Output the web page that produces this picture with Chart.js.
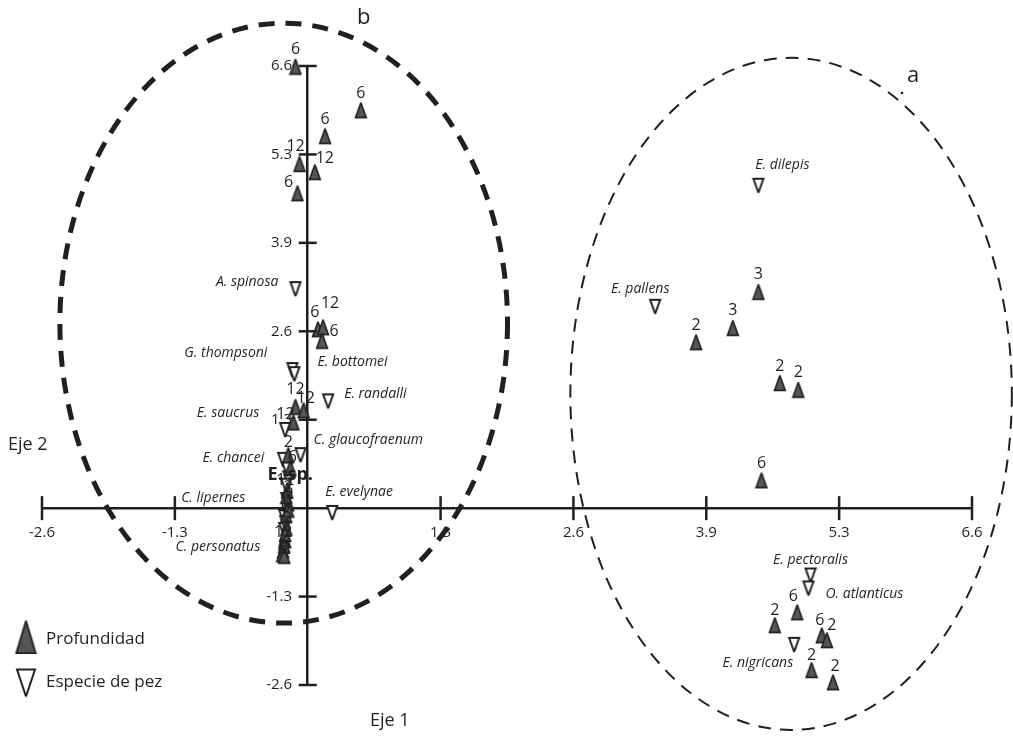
<!DOCTYPE html>
<html>
<head>
<meta charset="utf-8">
<script src="https://cdn.jsdelivr.net/npm/chart.js@4.4.1/dist/chart.umd.min.js"></script>
<style>
  html, body { margin: 0; background: #fff; }
  #wrap { width: 1013px; height: 736px; position: relative; }
</style>
</head>
<body>
<div id="wrap"><canvas id="ordination"></canvas></div>
<script>
// Axis ticks (both axes use the same steps) and the text printed on them
const tickValues = [-2.6, -1.3, 0, 1.3, 2.6, 3.9, 5.2, 6.5];
const tickLabels = ['-2.6', '-1.3', '', '1.3', '2.6', '3.9', '5.3', '6.6'];

// Profundidad (depth) samples
const depthX = [-0.12, 0.52, 0.17, -0.08, 0.07, -0.10, 0.10, 0.15, 0.14, -0.12, -0.04, -0.14,
                -0.19, -0.17, -0.20, -0.19, -0.21, -0.21, -0.22, -0.24, -0.23,
                -0.21, -0.19, -0.22, -0.25, -0.23,
                4.41, 4.16, 3.80, 4.62, 4.80, 4.44, 4.79, 4.57, 5.03, 5.08, 4.93, 5.14];
const depthY = [6.49, 5.85, 5.47, 5.06, 4.94, 4.63, 2.63, 2.66, 2.46, 1.49, 1.44, 1.26,
                0.78, 0.59, 0.26, 0.07, -0.10, -0.29, -0.47, -0.62, -0.54,
                0.18, -0.02, -0.38, -0.68, -0.70,
                3.18, 2.65, 2.44, 1.84, 1.74, 0.41, -1.53, -1.72, -1.87, -1.94, -2.38, -2.56];
const depthLabels = ['6', '6', '6', '12', '12', '6', '6', '12', '6', '12', '12', '12',
                     '2', '6', '12', '2', '6', '2', '12', '6', '2',
                     '2', '6', '2', '6', '2',
                     '3', '3', '2', '2', '2', '6', '6', '2', '6', '2', '2', '2'];

// Especie de pez (fish species)
const fishX = [4.41, 3.40, 4.92, 4.90, 4.76, -0.12, -0.15, -0.13, 0.20, -0.22, -0.07, -0.24,
               -0.19, -0.21, 0.24, -0.23, -0.23, -0.20, -0.21, -0.22];
const fishY = [4.74, 2.96, -0.99, -1.18, -2.01, 3.22, 2.03, 1.97, 1.57, 1.15, 0.78, 0.71,
               0.44, 0.12, -0.07, -0.32, -0.13, 0.57, 0.33, -0.22];
const fishNames = ['E. dilepis', 'E. pallens', 'E. pectoralis', 'O. atlanticus', 'E. nigricans',
                   'A. spinosa', 'G. thompsoni', 'E. bottomei', 'E. randalli', 'E. saucrus',
                   'C. glaucofraenum', 'E. chancei', 'E. sp.', 'C. lipernes', 'E. evelynae',
                   'C. personatus', '', '', '', ''];

// where each text sits relative to its marker, in pixels: [dx, dy, align]
const depthLabelOffsets = [[0, -17], [0, -17], [0, -17], [-4, -18], [10, -14], [-9, -11],
  [-3, -17], [7, -24], [12, -9], [0, -17], [2, -12], [-8, -8],
  [0, -13], [2, -11], [-2, -10], [1, -9], [-1, -8], [1, -9], [-2, -8], [0, -8], [1, -8],
  [2, -8], [-1, -8], [1, -8], [0, -6], [2, -6],
  [0, -17], [0, -17], [0, -17], [0, -17], [0, -17], [0, -17], [-4, -16], [0, -15], [-2, -15],
  [5, -15], [0, -15], [2, -16]];
const fishLabelOffsets = [[24, -21, 'center'], [-15, -18, 'center'], [0, -15, 'center'],
  [17, 6, 'left'], [-1, 18, 'right'], [-17, -7, 'right'], [-25, -17, 'right'],
  [23, -12, 'left'], [16, -7, 'left'], [-26, -17, 'right'], [13, -15, 'left'],
  [-19, -2, 'right'], [2, -3, 'center'], [-41, -2, 'right'], [-7, -21, 'left'],
  [-24, 17, 'right'], [0, 0, 'center'], [0, 0, 'center'], [0, 0, 'center'], [0, 0, 'center']];

// the two grouping ellipses, in axis units
const groups = [
  { name: 'b', cx: -0.235, cy: 2.72, rx: 2.19, ry: 4.41, width: 5, dash: [16, 11] },
  { name: 'a', cx: 4.73, cy: 1.68, rx: 2.16, ry: 4.94, width: 2, dash: [13, 9] }
];

const ink = '#231f20';
const font = "'Open Sans', 'Noto Sans', sans-serif";

// Elongated triangle markers
function triangle(w, h, up, fill, lw) {
  const c = document.createElement('canvas');
  c.width = Math.round(w + lw * 2);
  c.height = Math.round(h + lw * 2);
  const g = c.getContext('2d');
  g.lineWidth = lw;
  g.strokeStyle = ink;
  g.fillStyle = fill;
  g.miterLimit = 2;
  g.beginPath();
  if (up) {
    g.moveTo(c.width / 2, lw);
    g.lineTo(c.width - lw, c.height - lw);
    g.lineTo(lw, c.height - lw);
  } else {
    g.moveTo(lw, lw);
    g.lineTo(c.width - lw, lw);
    g.lineTo(c.width / 2, c.height - lw);
  }
  g.closePath();
  g.fill();
  g.stroke();
  return c;
}

const upMark = triangle(11, 15, true, '#555555', 1.6);
const downMark = triangle(10, 14, false, '#ffffff', 2);
const upLegend = triangle(19, 32, true, '#555555', 1.8);
const downLegend = triangle(18, 27, false, '#ffffff', 2);

function labelFor(index) {
  return tickLabels[index];
}

// ellipses behind the points
const ellipsePlugin = {
  id: 'ellipses',
  beforeDatasetsDraw(chart) {
    const { ctx, scales: { x, y } } = chart;
    groups.forEach(gr => {
      const cx = x.getPixelForValue(gr.cx);
      const cy = y.getPixelForValue(gr.cy);
      const rx = x.getPixelForValue(gr.cx + gr.rx) - cx;
      const ry = cy - y.getPixelForValue(gr.cy + gr.ry);
      ctx.save();
      ctx.strokeStyle = ink;
      ctx.lineWidth = gr.width;
      ctx.setLineDash(gr.dash);
      ctx.beginPath();
      ctx.ellipse(cx, cy, rx, ry, 0, 0, Math.PI * 2);
      ctx.stroke();
      ctx.restore();
    });
  }
};

// tick marks crossing the axes, point labels, axis names and legend
const annotatePlugin = {
  id: 'annotate',
  afterDatasetsDraw(chart) {
    const { ctx, scales: { x, y } } = chart;
    const x0 = x.getPixelForValue(0);
    const y0 = y.getPixelForValue(0);
    ctx.save();
    ctx.strokeStyle = ink;
    ctx.lineWidth = 2.5;
    tickValues.forEach(v => {
      if (v === 0) return;
      const px = x.getPixelForValue(v);
      ctx.beginPath(); ctx.moveTo(px, y0 - 12); ctx.lineTo(px, y0 + 12); ctx.stroke();
      const py = y.getPixelForValue(v);
      ctx.beginPath(); ctx.moveTo(x0 - 9, py); ctx.lineTo(x0 + 9, py); ctx.stroke();
    });

    ctx.fillStyle = ink;
    ctx.textBaseline = 'middle';
    const depthMeta = chart.getDatasetMeta(0);
    ctx.font = '16px ' + font;
    ctx.textAlign = 'center';
    depthMeta.data.forEach((pt, i) => {
      const [dx, dy] = depthLabelOffsets[i];
      ctx.fillText(depthLabels[i], pt.x + dx, pt.y + dy);
    });

    const fishMeta = chart.getDatasetMeta(1);
    fishMeta.data.forEach((pt, i) => {
      if (!fishNames[i]) return;
      const [dx, dy, align] = fishLabelOffsets[i];
      ctx.textAlign = align;
      ctx.font = fishNames[i] === 'E. sp.' ? 'bold 18px ' + font : 'italic 14px ' + font;
      ctx.fillText(fishNames[i], pt.x + dx, pt.y + dy);
    });

    // axis names and group letters
    ctx.textAlign = 'left';
    ctx.font = '18px ' + font;
    ctx.fillText('Eje 2', 8, 445);
    ctx.fillText('Eje 1', 370, 721);
    ctx.font = '22px ' + font;
    ctx.fillText('b', 357, 18);
    ctx.fillText('a', 907, 76);
    ctx.beginPath(); ctx.arc(902, 93, 1.3, 0, Math.PI * 2); ctx.fill();

    // legend
    ctx.drawImage(upLegend, 26 - upLegend.width / 2, 637 - upLegend.height / 2);
    ctx.drawImage(downLegend, 26 - downLegend.width / 2, 683 - downLegend.height / 2);
    ctx.font = '17px ' + font;
    ctx.fillText('Profundidad', 46, 639);
    ctx.fillText('Especie de pez', 46, 682);
    ctx.restore();
  }
};

const axisTicks = {
  padding: 16,
  autoSkip: false,
  maxRotation: 0,
  color: ink,
  font: { family: font, size: 15 }
};

document.addEventListener('DOMContentLoaded', function () {
  const canvas = document.getElementById('ordination');
  new Chart(canvas, {
    type: 'scatter',
    data: {
      datasets: [{
        label: 'Profundidad',
        data: depthX.map((v, i) => ({ x: v, y: depthY[i] })),
        pointStyle: upMark,
        pointRadius: 8,
        clip: false
      }, {
        label: 'Especie de pez',
        data: fishX.map((v, i) => ({ x: v, y: fishY[i] })),
        pointStyle: downMark,
        pointRadius: 8,
        clip: false
      }]
    },
    options: {
      responsive: true,
      maintainAspectRatio: false,
      animation: false,
      layout: { padding: { left: 42, right: 41, top: 66, bottom: 51 } },
      plugins: { legend: { display: false }, tooltip: { enabled: false } },
      scales: {
        x: {
          type: 'linear',
          min: -2.6,
          max: 6.5,
          position: { y: 0 },
          afterFit: s => { s.height = 0; },
          afterBuildTicks: s => { s.ticks = tickValues.map(v => ({ value: v })); },
          grid: { display: false, drawTicks: false },
          border: { color: ink, width: 2.5 },
          ticks: Object.assign({}, axisTicks, { callback: (v, i) => labelFor(i) })
        },
        y: {
          type: 'linear',
          min: -2.6,
          max: 6.5,
          position: { x: 0 },
          afterFit: s => { s.width = 0; },
          afterBuildTicks: s => { s.ticks = tickValues.map(v => ({ value: v })); },
          grid: { display: false, drawTicks: false },
          border: { color: ink, width: 2.5 },
          ticks: Object.assign({}, axisTicks, { callback: (v, i) => labelFor(i) ? labelFor(i) + '    ' : '' })
        }
      }
    },
    plugins: [ellipsePlugin, annotatePlugin]
  });
}, true);
</script>
</body>
</html>
